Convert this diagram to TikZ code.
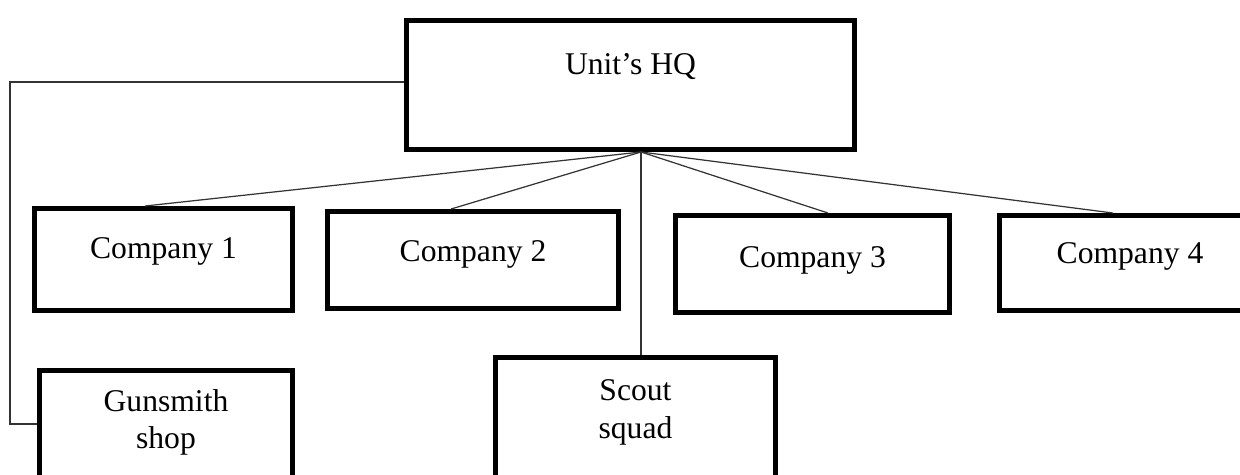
\documentclass[tikz,border=0pt]{standalone}
\usepackage{fontspec}
\setmainfont{Liberation Serif}
\usepackage{tikz}

\begin{document}
\begin{tikzpicture}[x=0.02cm, y=-0.02cm,
        unitbox/.style={rectangle, draw=black, line width=0.1cm, align=center, font=\fontsize{18}{21.6}\selectfont},
        link/.style={draw=black!80, line width=0.7pt}]
            \clip (0, 0) rectangle (1240, 474);

            \node[unitbox, minimum width=8.96cm, minimum height=2.58cm, text depth=0.86cm] (hq) at (630.5, 85) {Unit’s HQ};
            \node[unitbox, minimum width=5.16cm, minimum height=2.04cm, text depth=0.44cm] (c1) at (163.5, 259.5) {Company 1};
            \node[unitbox, minimum width=5.82cm, minimum height=1.94cm, text depth=0.34cm] (c2) at (473, 260) {Company 2};
            \node[unitbox, minimum width=5.48cm, minimum height=1.94cm, text depth=0.26cm] (c3) at (812.5, 264) {Company 3};
            \node[unitbox, minimum width=5.22cm, minimum height=1.90cm, text depth=0.38cm] (c4) at (1130, 263) {Company 4};
            \node[unitbox, minimum width=5.06cm, minimum height=2.49cm, text depth=0.55cm] (gun) at (166, 432.75) {Gunsmith\\shop};
            \node[unitbox, minimum width=5.60cm, minimum height=2.75cm, text depth=0.69cm] (scout) at (635.5, 426.25) {Scout\\squad};

            \coordinate (hub) at ([xshift=0.21cm]hq.south);
            \coordinate (bend) at (10, 424);

            \draw[link] (hub) -- ([xshift=-0.37cm]c1.north);
            \draw[link] (hub) -- ([xshift=-0.44cm]c2.north);
            \draw[link] (hub) -- ([xshift=0.31cm]c3.north);
            \draw[link] (hub) -- ([xshift=-0.34cm]c4.north);
            \draw[link] (hub) -- (hub |- scout.north);
            \draw[link] ([yshift=0.06cm]hq.west) -| (bend) -- (gun.west |- bend);
        \end{tikzpicture}
\end{document}
